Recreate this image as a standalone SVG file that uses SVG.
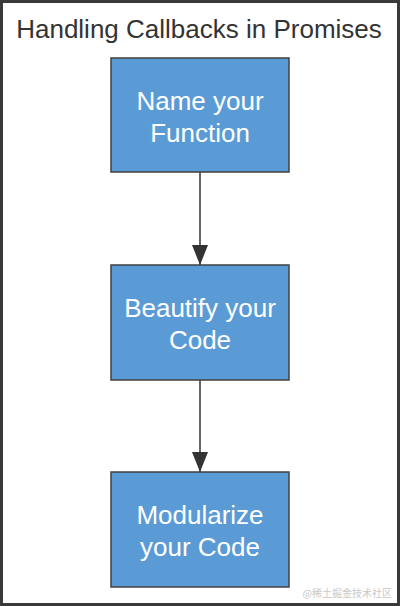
<svg xmlns="http://www.w3.org/2000/svg" width="400" height="606" viewBox="0 0 400 606">
<defs>
<style>
.box{fill:#5b9bd5;stroke:#404040;stroke-width:1.5}
.lbl{font-family:"Liberation Sans",Arial,sans-serif;font-size:26px;fill:#ffffff;text-anchor:middle}
.title{font-family:"Liberation Sans",Arial,sans-serif;font-size:26px;fill:#333333;text-anchor:middle}
.conn{stroke:#333333;stroke-width:1.5;fill:none}
</style>
<marker id="ah" markerWidth="20" markerHeight="16" refX="20" refY="8" orient="auto" markerUnits="userSpaceOnUse" viewBox="0 0 20 16">
<path d="M0,0 L20,8 L0,16 Z" fill="#333333"/>
</marker>
</defs>
<rect x="0" y="0" width="400" height="606" fill="#ffffff"/>
<rect x="1.5" y="1.5" width="397" height="603" fill="none" stroke="#3a3a3a" stroke-width="3"/>
<text class="title" x="199" y="38">Handling Callbacks in Promises</text>
<g id="connectors">
<line class="conn" x1="200" y1="172" x2="200" y2="265" marker-end="url(#ah)"/>
<line class="conn" x1="200" y1="380" x2="200" y2="472" marker-end="url(#ah)"/>
</g>
<g id="node1">
<rect class="box" x="111" y="58" width="178" height="114"/>
<text class="lbl" x="200" y="110">Name your</text>
<text class="lbl" x="200" y="142">Function</text>
</g>
<g id="node2">
<rect class="box" x="111" y="265" width="178" height="115"/>
<text class="lbl" x="200" y="317">Beautify your</text>
<text class="lbl" x="200" y="349">Code</text>
</g>
<g id="node3">
<rect class="box" x="111" y="472" width="178" height="115"/>
<text class="lbl" x="200" y="524">Modularize</text>
<text class="lbl" x="200" y="556">your Code</text>
</g>
<text x="392" y="597" font-family="'Noto Sans CJK SC',sans-serif" font-size="10" fill="#c8c8c8" text-anchor="end">@稀土掘金技术社区</text>
</svg>
